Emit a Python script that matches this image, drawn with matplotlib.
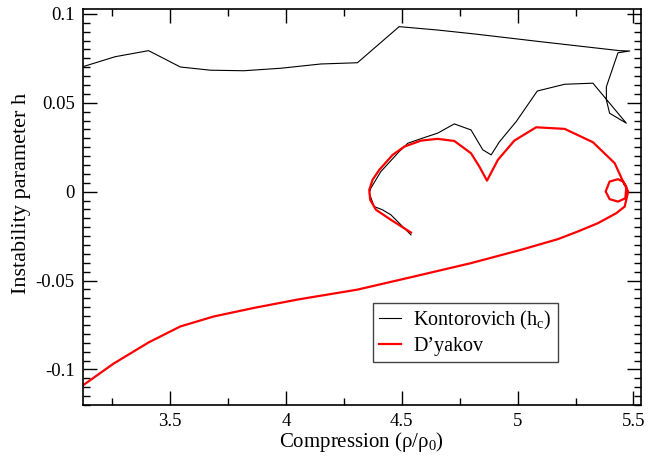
"""
Instability parameter h along the Hugoniot: Kontorovich vs D'yakov criteria.
"""
import matplotlib
matplotlib.use("Agg")
from matplotlib import pyplot as plt
from matplotlib.ticker import MultipleLocator, FuncFormatter

# Kontorovich (h_c) curve
kont_x = [3.125, 3.264, 3.408, 3.545, 3.675, 3.819, 3.978, 4.151, 4.309,
          4.489, 4.655, 4.813, 5.102, 5.440, 5.484, 5.433, 5.383, 5.383,
          5.397, 5.469, 5.325, 5.203, 5.085, 4.994, 4.922, 4.886, 4.850,
          4.799, 4.727, 4.655, 4.590, 4.526, 4.489, 4.410, 4.367, 4.360,
          4.381, 4.417, 4.453, 4.540]
kont_h = [0.0703, 0.0759, 0.0793, 0.0701, 0.0683, 0.0680, 0.0694, 0.0718,
          0.0725, 0.0928, 0.0909, 0.0887, 0.0843, 0.0793, 0.0791, 0.0781,
          0.0590, 0.0516, 0.0441, 0.0385, 0.0610, 0.0604, 0.0566, 0.0394,
          0.0281, 0.0207, 0.0235, 0.0347, 0.0381, 0.0329, 0.0301, 0.0272,
          0.0225, 0.0113, 0.0020, -0.0008, -0.0084, -0.0102, -0.0130,
          -0.0243]

# D'yakov curve
dyak_x = [3.125, 3.257, 3.408, 3.545, 3.689, 3.862, 4.050, 4.309, 4.554,
          4.799, 5.015, 5.174, 5.260, 5.347, 5.426, 5.462, 5.477, 5.455,
          5.433, 5.397, 5.380, 5.397, 5.433, 5.465, 5.469, 5.455, 5.419,
          5.325, 5.203, 5.080, 4.986, 4.915, 4.868, 4.835, 4.799, 4.727,
          4.655, 4.583, 4.511, 4.461, 4.403, 4.374, 4.360, 4.364, 4.389,
          4.453, 4.540]
dyak_h = [-0.1089, -0.0967, -0.0848, -0.0758, -0.0702, -0.0654, -0.0607,
          -0.0551, -0.0477, -0.0402, -0.0327, -0.0267, -0.0224, -0.0177,
          -0.0121, -0.0084, 0.0001, 0.0057, 0.0070, 0.0057, 0.0001, -0.0042,
          -0.0056, -0.0037, 0.0029, 0.0057, 0.0160, 0.0278, 0.0353, 0.0362,
          0.0287, 0.0179, 0.0062, 0.0141, 0.0216, 0.0285, 0.0297, 0.0287,
          0.0253, 0.0207, 0.0122, 0.0066, 0.0010, -0.0046, -0.0102, -0.0158,
          -0.0230]

plt.rcParams["font.family"] = ["Liberation Serif", "DejaVu Serif"]
plt.rcParams["mathtext.fontset"] = "custom"
plt.rcParams["mathtext.rm"] = "Liberation Serif"
plt.rcParams["mathtext.it"] = "Liberation Serif:italic"
plt.rcParams["axes.unicode_minus"] = False


def fmt(v, pos):
    s = f"{v:.2f}".rstrip("0").rstrip(".")
    return "0" if s in ("0", "-0") else s


def main():
    fig = plt.figure(figsize=(6.5, 4.59), dpi=100)
    ax = fig.add_axes([0.1277, 0.1176, 0.8583, 0.8627])

    ax.plot(kont_x, kont_h, color="black", lw=0.8, label="Kontorovich (h$_\\mathrm{c}$)")
    ax.plot(dyak_x, dyak_h, color="#ff0000", lw=1.6, label="D\u2019yakov")

    ax.set_xlim(3.125, 5.532)
    ax.set_ylim(-0.12, 0.1027)
    ax.xaxis.set_major_locator(MultipleLocator(0.5))
    ax.xaxis.set_minor_locator(MultipleLocator(0.25))
    ax.yaxis.set_major_locator(MultipleLocator(0.05))
    ax.yaxis.set_minor_locator(MultipleLocator(0.005))
    ax.xaxis.set_major_formatter(FuncFormatter(fmt))
    ax.yaxis.set_major_formatter(FuncFormatter(fmt))
    ax.tick_params(which="both", direction="in", top=True, right=True,
                   labelsize=13.5, width=1)
    ax.tick_params(which="major", length=10, pad=6)
    ax.tick_params(which="minor", length=5)
    for s in ax.spines.values():
        s.set_linewidth(1.2)

    ax.set_xlabel("Compression (\u03c1/\u03c1$_\\mathrm{0}$)", fontsize=15, labelpad=0)
    ax.set_ylabel("Instability parameter h", fontsize=16)
    ax.yaxis.set_label_coords(-0.093, 0.535)

    leg = ax.legend(loc="lower left", bbox_to_anchor=(0.52, 0.109),
                    borderaxespad=0, fontsize=14.5, fancybox=False,
                    framealpha=1, handlelength=1.1, handletextpad=0.6,
                    borderpad=0.3, labelspacing=0.25)
    leg.get_frame().set_edgecolor("#444444")
    leg.get_frame().set_linewidth(1)

    fig.savefig("out.png", dpi=100)


if __name__ == "__main__":
    main()
